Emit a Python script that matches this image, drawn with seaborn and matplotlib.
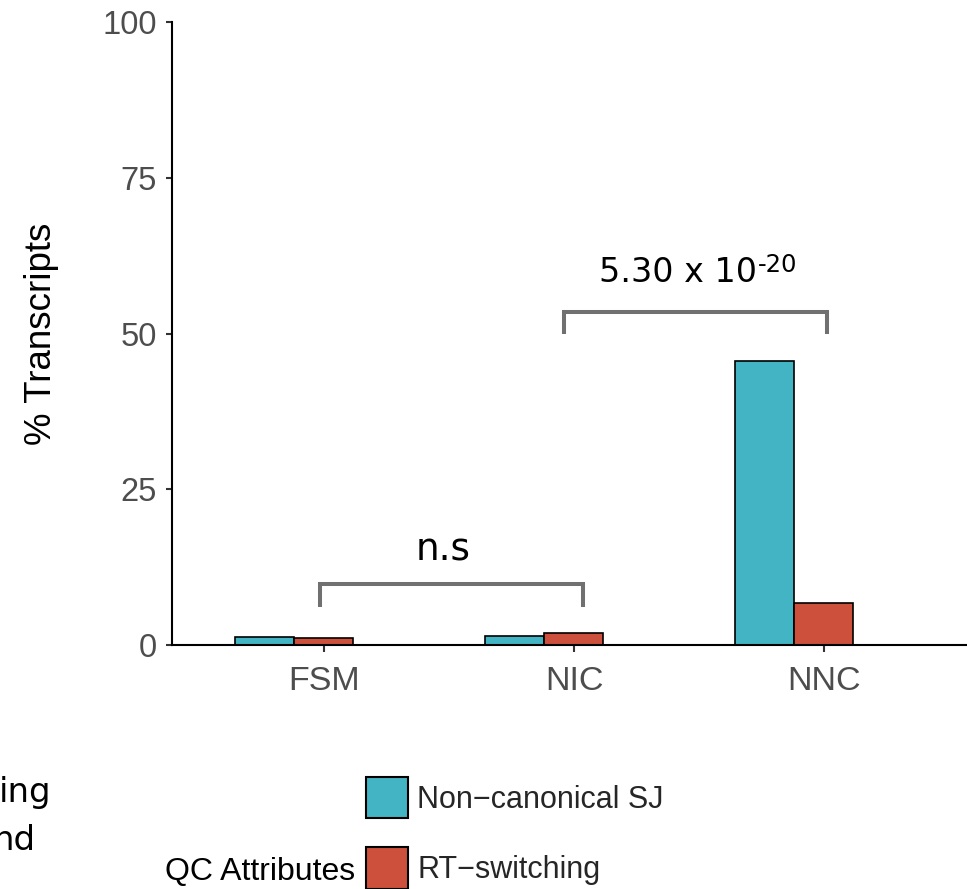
import numpy as np
import pandas as pd
import matplotlib
matplotlib.use("Agg")
import matplotlib.pyplot as plt
import seaborn as sns

# ---- data ----
categories = ["FSM", "NIC", "NNC"]
attributes = ["Non\u2212canonical SJ", "RT\u2212switching"]
noncanonical_sj = [1.33, 1.44, 45.6]
rt_switching = [1.17, 1.88, 6.7]
y_ticks = [0, 25, 50, 75, 100]
legend_title = "QC Attributes"
ylabel = "% Transcripts"
colors = ["#42B4C3", "#CD503C"]

df = pd.DataFrame({
    "category": categories * 2,
    "attribute": [attributes[0]] * 3 + [attributes[1]] * 3,
    "pct": noncanonical_sj + rt_switching,
})

sns.set_style("ticks")
plt.rcParams["font.family"] = ["Liberation Sans", "DejaVu Sans"]

W, H = 967, 889
fig = plt.figure(figsize=(W / 100, H / 100), dpi=100)
ax = fig.add_axes([172 / W, 244 / H, (W - 172) / W, 623 / H])

sns.barplot(data=df, x="category", y="pct", hue="attribute",
            order=categories, hue_order=attributes,
            palette=colors, saturation=1, width=0.47,
            edgecolor="black", linewidth=1.2, ax=ax, errorbar=None)

handles, labels = ax.get_legend_handles_labels()
if ax.get_legend() is not None:
    ax.get_legend().remove()

ax.set_ylim(0, 100)
ax.set_xlim(-0.488, 2.692)
ax.set_yticks(y_ticks)
ax.set_yticklabels([str(v) for v in y_ticks])
ax.set_xticks(np.arange(len(categories)) + 0.12)
ax.set_xticklabels(categories)
ax.set_xlabel("")
ax.set_ylabel(ylabel, fontsize=26.5, color="black", labelpad=31)

for s in ["top", "right"]:
    ax.spines[s].set_visible(False)
for s in ["left", "bottom"]:
    ax.spines[s].set_linewidth(1.5)
    ax.spines[s].set_color("black")

ax.tick_params(axis="y", labelsize=23.5, labelcolor="#4D4D4D", color="#333333",
               length=4, width=1.5, pad=7)
ax.tick_params(axis="x", labelsize=24.5, labelcolor="#4D4D4D", color="#333333",
               length=5, width=1.5, pad=10)

# significance brackets
br_col = "#707070"
def bracket(x0, x1, ytop, ybot):
    ax.plot([x0, x0, x1, x1], [ybot, ytop, ytop, ybot], color=br_col,
            lw=2.9, solid_joinstyle="miter", solid_capstyle="butt",
            clip_on=False)

bracket(0.104, 1.156, 9.8, 6.1)
bracket(1.08, 2.132, 53.5, 49.9)

ax.text(0.596, 13.5, "n.s", ha="center", va="baseline", fontsize=27,
        family="DejaVu Sans", color="black")
ax.text(1.852, 58.3, "5.30 x 10", ha="right", va="baseline", fontsize=24,
        family="DejaVu Sans", color="black")
ax.text(1.856, 59.9, "-20", ha="left", va="baseline", fontsize=17.5,
        family="DejaVu Sans", color="black")

# legend
leg = fig.legend(handles, labels, loc="upper left",
                 bbox_to_anchor=(366 / W, 1 - 777 / H),
                 frameon=False, fontsize=22, borderpad=0, borderaxespad=0,
                 handlelength=1.37, handleheight=1.7, labelspacing=0.95,
                 handletextpad=0.3)
for h in leg.legend_handles:
    h.set_edgecolor("black")
    h.set_linewidth(1.5)
fig.text(355 / W, 1 - 880 / H, legend_title, ha="right", va="baseline",
         fontsize=23, color="black")

# clipped text from a neighbouring panel at the left edge (cut off as in the reference)
fig.text(51 / W, 1 - 802 / H, "ing", ha="right", va="baseline", fontsize=24.5,
         family="DejaVu Sans", color="black")
fig.text(36 / W, 1 - 850 / H, "nd", ha="right", va="baseline", fontsize=24.5,
         family="DejaVu Sans", color="black")

fig.savefig("out.png", dpi=100)
